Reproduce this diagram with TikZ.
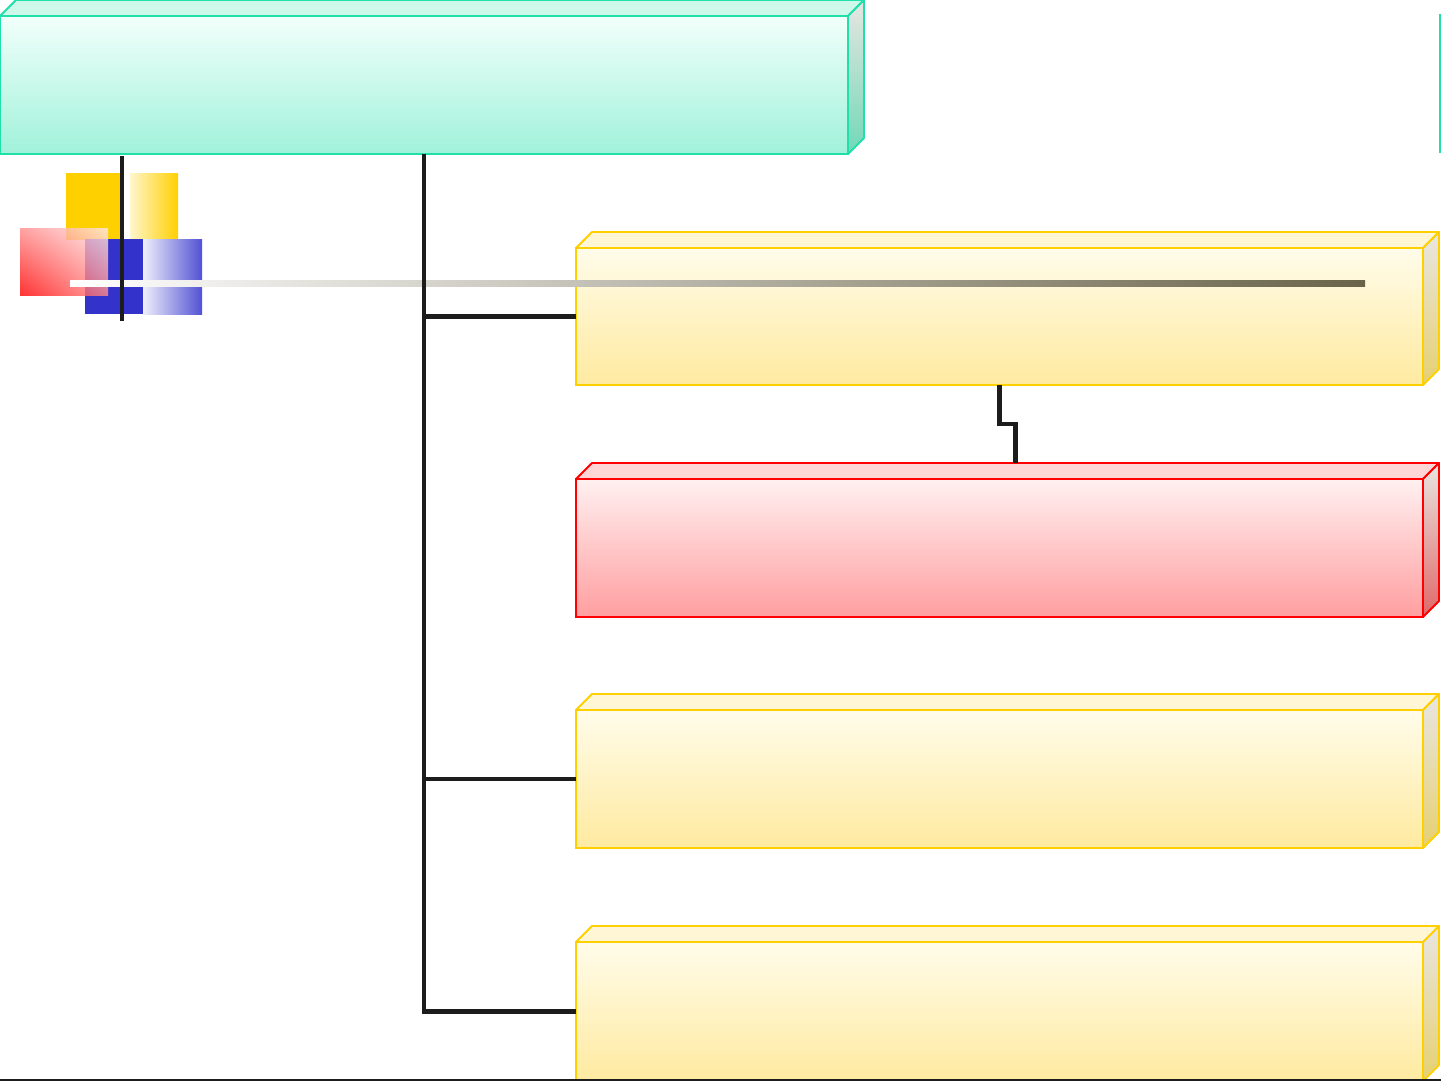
\documentclass[tikz,border=0pt]{standalone}
\usetikzlibrary{calc,shadings}
\definecolor{tealb}{RGB}{30,224,168}
\definecolor{tealtop}{RGB}{242,255,251}
\definecolor{tealbot}{RGB}{160,242,218}
\definecolor{tealface}{RGB}{205,248,234}
\definecolor{tealside}{RGB}{112,216,184}
\definecolor{yelb}{RGB}{255,208,0}
\definecolor{yeltop}{RGB}{255,252,234}
\definecolor{yelbot}{RGB}{255,234,160}
\definecolor{yelface}{RGB}{255,246,214}
\definecolor{yelside}{RGB}{230,208,112}
\definecolor{redb}{RGB}{255,0,0}
\definecolor{redtop}{RGB}{255,240,240}
\definecolor{redbot}{RGB}{255,158,160}
\definecolor{redface}{RGB}{255,214,214}
\definecolor{redside}{RGB}{224,104,104}
\definecolor{sidegray}{RGB}{232,230,226}
\definecolor{conncol}{RGB}{28,28,28}
\definecolor{barend}{RGB}{105,100,73}
\definecolor{decoblue}{RGB}{51,51,204}
\newcommand{\boxfaces}[4]{%
  \draw[line width=1.8pt, draw=#4, fill=#2, line join=round]
    (#1.north west) -- ++(16,-16) -- ($(#1.north east)+(16,-16)$) -- (#1.north east) -- cycle;
  \draw[line width=1.8pt, draw=#4, top color=sidegray, bottom color=#3, line join=round]
    (#1.north east) -- ++(16,-16) -- ($(#1.south east)+(16,-16)$) -- (#1.south east) -- cycle;
}
\begin{document}
\begin{tikzpicture}[x=1pt,y=-1pt,
  frontbox/.style={rectangle, inner sep=0pt, outer sep=0pt, anchor=north west,
    line width=1.8pt, minimum width=847pt},
  tealbox/.style={frontbox, draw=tealb, top color=tealtop, bottom color=tealbot},
  yelbox/.style={frontbox, draw=yelb, top color=yeltop, bottom color=yelbot},
  redbox/.style={frontbox, draw=redb, top color=redtop, bottom color=redbot},
  conn/.style={draw=conncol, line width=4.5pt, line cap=butt, line join=miter}]
\useasboundingbox (0,0) rectangle (1441,1081);
\fill[white] (0,0) rectangle (1441,1081);

% boxes
\node[tealbox, minimum width=848pt, minimum height=138pt] (t) at (0,16) {};
\boxfaces{t}{tealface}{tealside}{tealb}
\node[yelbox, minimum height=137pt] (y1) at (576,248) {};
\boxfaces{y1}{yelface}{yelside}{yelb}
\node[redbox, minimum height=138pt] (r) at (576,479) {};
\boxfaces{r}{redface}{redside}{redb}
\node[yelbox, minimum height=138pt] (y2) at (576,710) {};
\boxfaces{y2}{yelface}{yelside}{yelb}
\node[yelbox, minimum height=139pt] (y3) at (576,942) {};
\boxfaces{y3}{yelface}{yelside}{yelb}

% partial teal edge at right
\coordinate (tedgeA) at (1440,14);
\coordinate (tedgeB) at (1440,153);
\draw[draw=tealb, line width=2pt] (tedgeA) -- (tedgeB);

% decorative squares
\fill[yelb] (66,173) rectangle (121,240);
\shade[left color=yelb!20, right color=yelb] (130,173) rectangle (178,240);
\fill[decoblue] (85,239) rectangle (143,314);
\shade[left color=decoblue!8, right color=decoblue!85] (143,239) rectangle (202,314);
\shade[fill opacity=0.8, lower left=red, upper right=red!8, upper left=red!45, lower right=red!45] (20,228) rectangle (108,295);

% gradient bar
\shade[left color=white, middle color=black!33, right color=barend] (70,280) rectangle (1365,286);

% small black vertical line
\coordinate (decoA) at (122,156);
\coordinate (decoB) at (122,321);
\draw[conn] (decoA) -- (decoB);

% connectors
\coordinate (spine) at (424,0);
\draw[conn] (spine |- t.south) -- (spine |- y3.west) -- (y3.west);
\draw[conn] (spine |- y1.west) -- (y1.west);
\draw[conn] (spine |- y2.west) -- (y2.west);
\draw[conn] (y1.south) -- ++(0,39) -| ($(r.north)+(16,-16)$);

% bottom line
\coordinate (bl) at (0,1080);
\coordinate (br) at (1441,1080);
\draw[conncol, line width=2pt] (bl) -- (br);
\end{tikzpicture}
\end{document}
